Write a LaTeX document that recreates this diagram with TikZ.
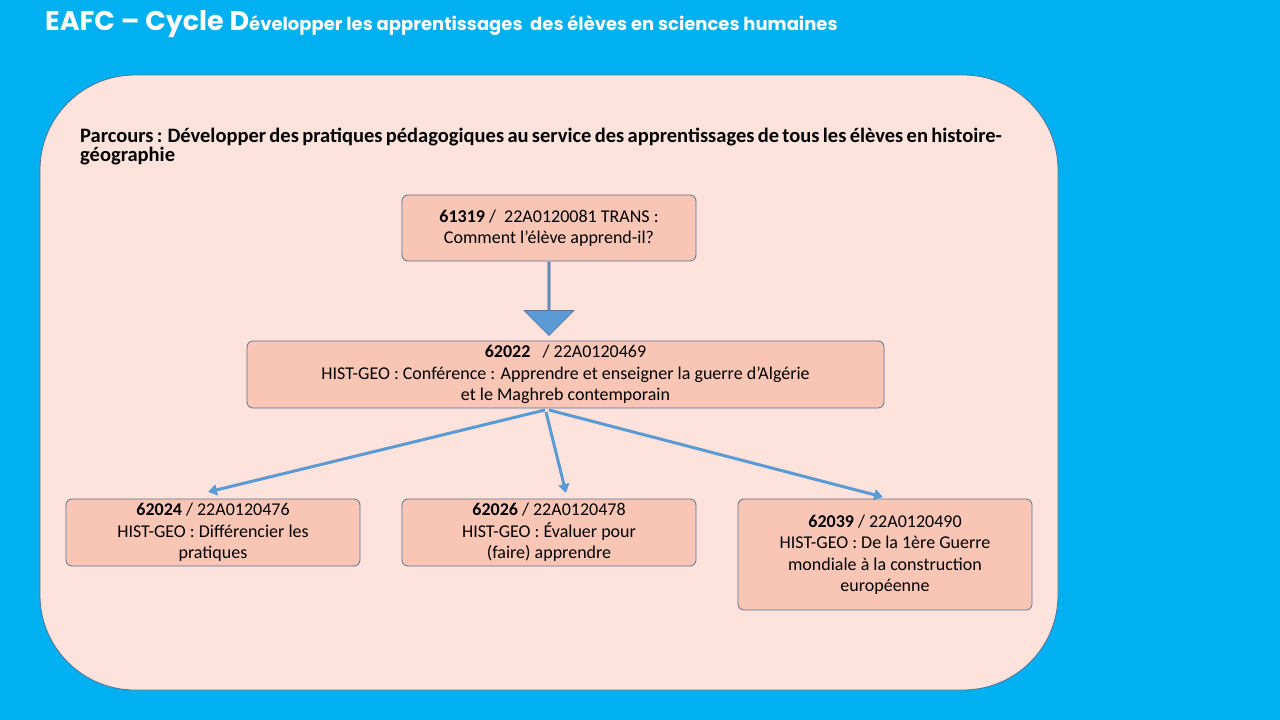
\documentclass[tikz,border=0pt]{standalone}
\usepackage{fontspec}
\setmainfont{Carlito}
\newfontfamily\titlefont{Poppins}
\usetikzlibrary{arrows.meta,shapes.arrows}
\definecolor{bg}{HTML}{00B0F0}
\definecolor{panel}{HTML}{FDE3DC}
\definecolor{boxf}{HTML}{F9C6B5}
\definecolor{boxd}{HTML}{5A7096}
\definecolor{arr}{HTML}{5B9BD5}
\begin{document}
\begin{tikzpicture}[x=1pt,y=-1pt,
  cbox/.style={draw=boxd,fill=boxf,rounded corners=6pt,line width=0.8pt,align=center,
    font=\fontsize{18}{21.5}\selectfont,inner sep=0pt},
  conn/.style={draw=arr,line width=3pt,-{Triangle[length=9pt,width=11pt]}}]
\useasboundingbox (0,0) rectangle (1280,720);
\fill[bg] (0,0) rectangle (1280,720);
\node[anchor=west,text=white,inner sep=0] (title) at (45,24)
  {\titlefont\bfseries\fontsize{27}{30}\selectfont EAFC – Cycle D\fontsize{18}{22}\selectfont évelopper les apprentissages\ \ des élèves en sciences humaines};
\draw[fill=panel,draw=boxd,line width=0.8pt,rounded corners=95pt] (40,75) rectangle (1058,690);
\node[anchor=north west,align=left,inner sep=0,text width=940pt] (parc) at (80,128)
  {\bfseries\fontsize{20.5}{26}\selectfont Parcours : Développer des pratiques pédagogiques au service des apprentissages de tous les élèves en histoire-géographie};
\node[cbox,minimum width=294pt,minimum height=66pt] (a) at (549,228)
  {\textbf{61319} /\ \ 22A0120081 TRANS :\\Comment l'élève apprend-il?};
\node[cbox,minimum width=637pt,minimum height=67pt] (b) at (565.5,374.5)
  {\textbf{62022}\ \ \ / 22A0120469\\HIST-GEO : Conférence : Apprendre et enseigner la guerre d'Algérie\\et le Maghreb contemporain};
\node[cbox,minimum width=294pt,minimum height=67pt] (c) at (213,532.5)
  {\textbf{62024} / 22A0120476\\HIST-GEO : Différencier les\\pratiques};
\node[cbox,minimum width=294pt,minimum height=67pt] (d) at (549,532.5)
  {\textbf{62026} / 22A0120478\\HIST-GEO : Évaluer pour\\(faire) apprendre};
\node[cbox,minimum width=294pt,minimum height=111pt] (e) at (885,554.5)
  {\textbf{62039} / 22A0120490\\HIST-GEO : De la 1ère Guerre\\mondiale à la construction\\européenne};
\node[single arrow,shape border rotate=270,fill=arr,draw=boxd,line width=0.6pt,
  minimum width=50pt,single arrow head extend=7pt,minimum height=73pt,inner sep=0pt,
  single arrow head indent=0pt] (big) at (549,298.5) {};
\coordinate (b1) at (545,410);
\coordinate (b2) at (546,412);
\coordinate (b3) at (549,410);
\draw[conn] (b1) -- (208,492);
\draw[conn] (b2) -- (566,493);
\draw[conn] (b3) -- (883,497);
\end{tikzpicture}
\end{document}
